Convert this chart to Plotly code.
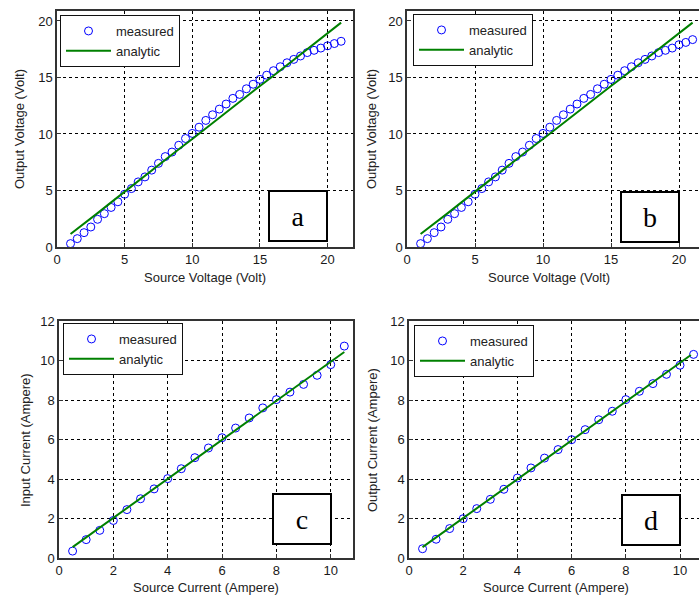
import plotly.graph_objects as go

W, H = 699, 598

# ---------------- data ----------------
volt_x = [1, 1.5, 2, 2.5, 3, 3.5, 4, 4.5, 5, 5.5, 6, 6.5, 7, 7.5, 8, 8.5, 9, 9.5, 10, 10.5,
          11, 11.5, 12, 12.5, 13, 13.5, 14, 14.5, 15, 15.5, 16, 16.5, 17, 17.5, 18, 18.5,
          19, 19.5, 20, 20.5, 21]
volt_meas_a = [0.3, 0.74, 1.27, 1.77, 2.45, 2.95, 3.5, 4.0, 4.67, 5.17, 5.76, 6.2, 6.8, 7.4,
               8.0, 8.4, 9.0, 9.6, 10.05, 10.6, 11.2, 11.7, 12.2, 12.65, 13.15, 13.5, 14.0,
               14.4, 14.83, 15.2, 15.6, 15.95, 16.3, 16.6, 16.9, 17.2, 17.4, 17.6, 17.8,
               18.0, 18.2]
volt_meas_b = [0.3, 0.74, 1.27, 1.77, 2.45, 2.95, 3.5, 4.0, 4.67, 5.17, 5.76, 6.2, 6.8, 7.4,
               8.0, 8.4, 9.0, 9.6, 10.05, 10.6, 11.2, 11.7, 12.2, 12.65, 13.15, 13.5, 14.0,
               14.4, 14.83, 15.2, 15.6, 15.95, 16.3, 16.6, 16.9, 17.2, 17.4, 17.6, 17.9,
               18.1, 18.35]
volt_an_x = [1, 2, 3, 4, 5, 6, 7, 8, 9, 10, 11, 12, 13, 14, 15, 16, 17, 18, 19, 20, 21]
volt_an_y = [1.15, 2.05, 3.0, 3.95, 4.9, 5.8, 6.75, 7.7, 8.65, 9.55, 10.5, 11.4, 12.35,
             13.3, 14.25, 15.15, 16.1, 17.0, 17.95, 18.9, 19.85]

curr_x = [0.5, 1, 1.5, 2, 2.5, 3, 3.5, 4, 4.5, 5, 5.5, 6, 6.5, 7, 7.5, 8, 8.5, 9, 9.5, 10, 10.5]
curr_meas_c = [0.35, 0.93, 1.4, 1.9, 2.45, 3.0, 3.5, 4.02, 4.52, 5.08, 5.57, 6.09, 6.58,
               7.09, 7.6, 8.02, 8.4, 8.79, 9.25, 9.79, 10.73]
curr_meas_d = [0.47, 0.95, 1.49, 1.99, 2.5, 2.97, 3.48, 4.05, 4.56, 5.06, 5.49, 5.99, 6.5,
               7.0, 7.43, 8.02, 8.44, 8.83, 9.3, 9.76, 10.31]
curr_an_x_c = [0.5, 10.5]
curr_an_y_c = [0.55, 10.43]
curr_an_x_d = [0.5, 10.4]
curr_an_y_d = [0.55, 10.28]

panel_letters = ["a", "b", "c", "d"]
x_titles = ["Source Voltage (Volt)", "Source Voltage (Volt)",
            "Source Current (Ampere)", "Source Current (Ampere)"]
y_titles = ["Output Voltage (Volt)", "Output Voltage (Volt)",
            "Input Current (Ampere)", "Output Current (Ampere)"]

# ---------------- layout geometry (pixels) ----------------
def px_x(p):
    return p / W

def px_y(p):
    return 1 - p / H

panels = [
    dict(xd=(57, 353), yd=(11, 247), xr=[0, 21.88], yr=[0, 20.88], dt=(5, 5), right_cut=False),
    dict(xd=(407, 699), yd=(11, 247), xr=[0, 21.47], yr=[0, 20.88], dt=(5, 5), right_cut=True),
    dict(xd=(59, 353), yd=(321, 558), xr=[0, 10.82], yr=[0, 12], dt=(2, 2), right_cut=False),
    dict(xd=(409, 699), yd=(321, 558), xr=[0, 10.7], yr=[0, 12], dt=(2, 2), right_cut=True),
]
series = [
    (volt_x, volt_meas_a, volt_an_x, volt_an_y),
    (volt_x, volt_meas_b, volt_an_x, volt_an_y),
    (curr_x, curr_meas_c, curr_an_x_c, curr_an_y_c),
    (curr_x, curr_meas_d, curr_an_x_d, curr_an_y_d),
]
legend_pos = [(60, 15), (413, 14), (63, 323), (414, 325)]
letter_box = [(298, 216), (650, 217), (302, 519), (651, 520)]
xtitle_pos = [(205, 277), (549, 277), (206, 587), (556, 587)]
ytitle_pos = [(20, 129), (372, 129), (25, 440), (372, 440)]

fig = go.Figure()
FONT = "Liberation Sans, Arial, sans-serif"
annotations = []
layout_upd = {}

for i, (p, s) in enumerate(zip(panels, series)):
    n = "" if i == 0 else str(i + 1)
    xa, ya = "x" + n, "y" + n
    leg = "legend" + n
    mx, my, ax, ay = s
    fig.add_trace(go.Scatter(x=mx, y=my, mode="markers", name="measured",
                             xaxis=xa, yaxis=ya, legend=leg,
                             marker=dict(symbol="circle-open", size=8,
                                         color="#0000FF", line=dict(width=1))))
    fig.add_trace(go.Scatter(x=ax, y=ay, mode="lines", name="analytic",
                             xaxis=xa, yaxis=ya, legend=leg,
                             line=dict(color="#008000", width=2)))
    common = dict(showgrid=True, gridcolor="#000000", griddash="3px,3px", gridwidth=1,
                  zeroline=False, showline=True, linecolor="#333333", linewidth=1.5,
                  ticks="inside", ticklen=4, tickcolor="#333333",
                  tickfont=dict(family=FONT, size=13, color="#1a1a1a"),
                  automargin=False, fixedrange=True)
    layout_upd["xaxis" + n] = dict(common, domain=[px_x(p["xd"][0]), px_x(p["xd"][1])],
                                   range=p["xr"], dtick=p["dt"][0], tick0=0,
                                   anchor=ya, mirror=True)
    layout_upd["yaxis" + n] = dict(common, domain=[px_y(p["yd"][1]), px_y(p["yd"][0])],
                                   range=p["yr"], dtick=p["dt"][1], tick0=0,
                                   anchor=xa, mirror=(not p["right_cut"]))
    lx, ly = legend_pos[i]
    layout_upd[leg] = dict(x=px_x(lx), y=px_y(ly), xanchor="left", yanchor="top",
                           bgcolor="white", bordercolor="#111111", borderwidth=1,
                           font=dict(family=FONT, size=13, color="#222222"),
                           itemwidth=45, tracegroupgap=0)
    bx, by = letter_box[i]
    annotations.append(dict(text=panel_letters[i], x=px_x(bx), y=px_y(by), xref="paper",
                            yref="paper", showarrow=False, xanchor="center", yanchor="middle",
                            width=56, height=48, bgcolor="white", bordercolor="black",
                            borderwidth=2, borderpad=0,
                            font=dict(family="Liberation Serif, Times New Roman, serif",
                                      size=28, color="black")))
    tx, ty = xtitle_pos[i]
    annotations.append(dict(text=x_titles[i], x=px_x(tx), y=px_y(ty), xref="paper",
                            yref="paper", showarrow=False, xanchor="center", yanchor="middle",
                            font=dict(family=FONT, size=13, color="#222222")))
    tx, ty = ytitle_pos[i]
    annotations.append(dict(text=y_titles[i], x=px_x(tx), y=px_y(ty), xref="paper",
                            yref="paper", showarrow=False, xanchor="center", yanchor="middle",
                            textangle=-90,
                            font=dict(family=FONT, size=13, color="#222222")))

fig.update_layout(width=W, height=H, margin=dict(l=0, r=0, t=0, b=0),
                  paper_bgcolor="white", plot_bgcolor="white",
                  showlegend=True, annotations=annotations, **layout_upd)

fig.write_html("out.html", config={"displayModeBar": False},
               post_script="document.body.style.margin='0';document.body.style.overflow='hidden';")
